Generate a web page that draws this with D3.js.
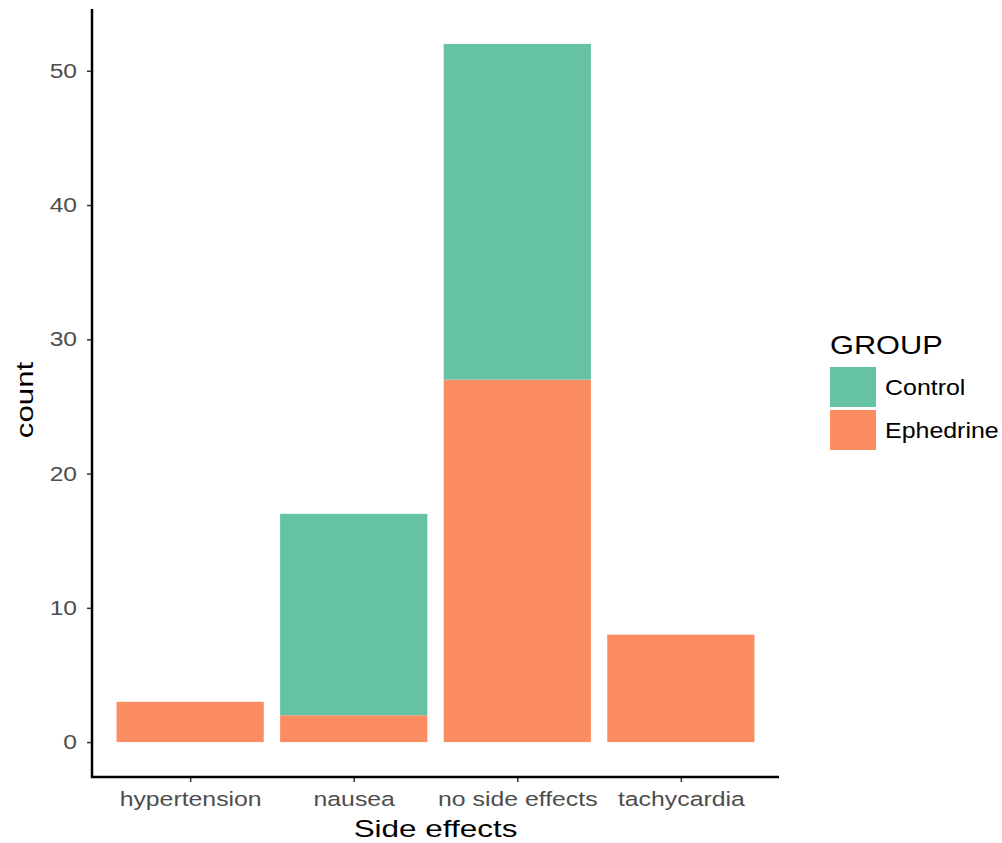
<!DOCTYPE html>
<html><head><meta charset="utf-8">
<script src="https://cdn.jsdelivr.net/npm/d3@7"></script>
<style>body{margin:0;background:#fff}svg{display:block}text{font-family:"Liberation Sans",Arial,sans-serif}</style>
</head><body>
<script>
const categories = ["hypertension","nausea","no side effects","tachycardia"];
const groups = ["Control","Ephedrine"];
const ephedrine = [3, 2, 27, 8];
const control = [0, 15, 25, 0];
const yTicks = [0,10,20,30,40,50];
const colors = ["#66C2A5","#FC8D62"];

const W=1002,H=843;
const FF="Liberation Sans, Arial, sans-serif";
const svg=d3.select("body").append("svg").attr("width",W).attr("height",H);
const L=92,R=779,T=9,B=777;
const step=(R-L)/(categories.length+0.2);
const xc=c=>L+step*(0.6+categories.indexOf(c));
const maxT=d3.max(categories.map((c,i)=>ephedrine[i]+control[i]));
const y=d3.scaleLinear().domain([-maxT*0.05,maxT*1.05]).range([B,T]);

function stretch(sel,f){
  sel.each(function(){
    const w=this.getComputedTextLength();
    d3.select(this).attr("textLength",w*f).attr("lengthAdjust","spacingAndGlyphs");
  });
}

const stackData=categories.map((c,i)=>({cat:c,Control:control[i],Ephedrine:ephedrine[i]}));
const series=d3.stack().keys(["Ephedrine","Control"])(stackData);
const bw=step*0.9;
series.forEach(s=>{
  const col=colors[groups.indexOf(s.key)];
  svg.append("g").selectAll("rect").data(s.filter(d=>d[1]>d[0])).join("rect")
    .attr("x",d=>xc(d.data.cat)-bw/2).attr("width",bw)
    .attr("y",d=>y(d[1])).attr("height",d=>y(d[0])-y(d[1]))
    .attr("fill",col);
});

// axes
const gy=svg.append("g").attr("transform",`translate(${L},0)`)
  .call(d3.axisLeft(y).tickValues(yTicks).tickSize(5).tickPadding(10).tickSizeOuter(0));
gy.attr("font-family",FF).attr("font-size",20.5);
gy.select(".domain").remove();
gy.selectAll(".tick line").attr("stroke","#333").attr("stroke-width",1.5);
gy.selectAll(".tick text").attr("fill","#4d4d4d");
stretch(gy.selectAll(".tick text"),1.2);
svg.append("line").attr("x1",L).attr("x2",L).attr("y1",T).attr("y2",B+1).attr("stroke","#000").attr("stroke-width",2.5);

const xs=d3.scalePoint().domain(categories).range([xc(categories[0]),xc(categories[3])]);
const gx=svg.append("g").attr("transform",`translate(0,${B})`)
  .call(d3.axisBottom(xs).tickSize(5).tickPadding(9).tickSizeOuter(0));
gx.attr("font-family",FF).attr("font-size",20.5);
gx.select(".domain").remove();
gx.selectAll(".tick line").attr("stroke","#333").attr("stroke-width",1.5);
gx.selectAll(".tick text").attr("fill","#4d4d4d");
stretch(gx.selectAll(".tick text"),1.21);
svg.append("line").attr("x1",L-1).attr("x2",R).attr("y1",B).attr("y2",B).attr("stroke","#000").attr("stroke-width",2.5);

const xt=svg.append("text").attr("x",(L+R)/2).attr("y",837).attr("text-anchor","middle").attr("font-size",24).attr("fill","#000").text("Side effects");
stretch(xt,1.31);
const yt=svg.append("text").attr("transform",`translate(33,400) rotate(-90)`).attr("text-anchor","middle").attr("font-size",24).attr("fill","#000").text("count");
stretch(yt,1.3);

// legend
const lg=svg.append("g");
const gt=lg.append("text").attr("x",830).attr("y",354).attr("font-size",26.5).attr("fill","#000").text("GROUP");
stretch(gt,1.16);
groups.forEach((g,i)=>{
  lg.append("rect").attr("x",830).attr("y",367+i*43).attr("width",46).attr("height",40).attr("fill",colors[i]);
  const t=lg.append("text").attr("x",885).attr("y",395+i*43).attr("font-size",21.5).attr("fill","#000").text(g);
  stretch(t,1.16);
});
</script>
</body></html>
